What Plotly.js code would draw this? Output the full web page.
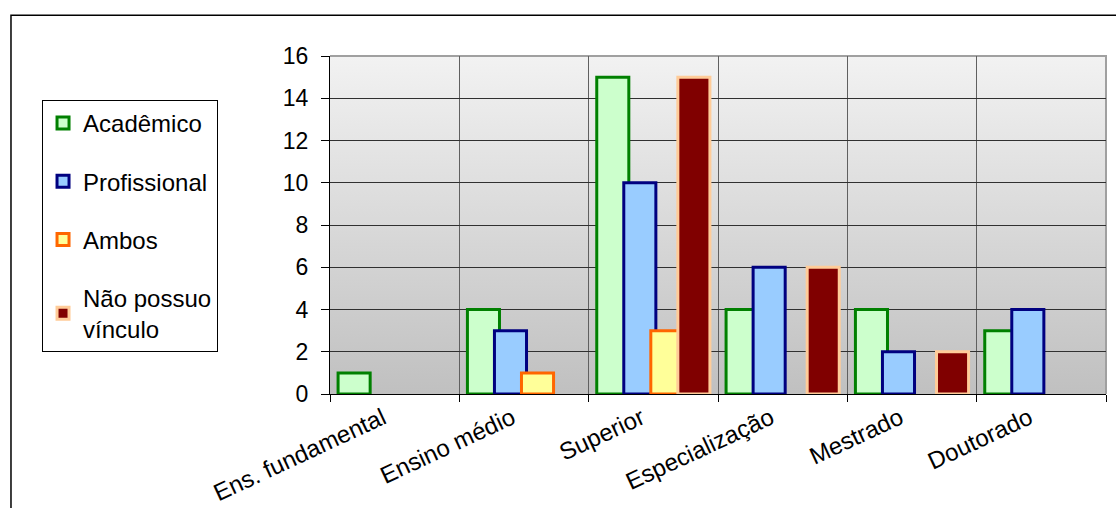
<!DOCTYPE html>
<html>
<head>
<meta charset="utf-8">
<script src="https://cdn.plot.ly/plotly-3.0.1.min.js"></script>
<style>
html,body{margin:0;padding:0;background:#fff;}
#chart{width:1116px;height:508px;}
</style>
</head>
<body>
<div id="chart"></div>
<script>
var categories = ['Ens. fundamental', 'Ensino médio', 'Superior', 'Especialização', 'Mestrado', 'Doutorado'];
var academico = [1, 4, 15, 4, 4, 3];
var profissional = [null, 3, 10, 6, 2, 4];
var ambos = [null, 1, 3, null, null, null];
var naoPossuo = [null, null, 15, 6, 2, null];
var seriesNames = ['Acadêmico', 'Profissional', 'Ambos', 'Não possuo<br>vínculo'];
var yTicks = [0, 2, 4, 6, 8, 10, 12, 14, 16];

var fills = ['#CCFFCC', '#99CCFF', '#FFFF99', '#800000'];
var lines = ['#008000', '#000080', '#FF6600', '#FFCC99'];
var values = [academico, profissional, ambos, naoPossuo];

var barW = 0.248, step = 0.209;
var traces = values.map(function (v, i) {
  var center = (i - 1.5) * step;
  return {
    type: 'bar',
    name: seriesNames[i],
    x: categories,
    y: v,
    width: barW,
    offset: center - barW / 2,
    legendgroup: 'g' + i,
    marker: {color: fills[i], line: {color: lines[i], width: 3}},
    hoverinfo: 'x+y'
  };
});

var font = 'Liberation Sans, Arial, sans-serif';
var grad = 'data:image/svg+xml;charset=utf-8,' + encodeURIComponent(
  '<svg xmlns="http://www.w3.org/2000/svg" width="100" height="100" preserveAspectRatio="none">' +
  '<defs><linearGradient id="g" x1="0" y1="0" x2="0" y2="1">' +
  '<stop offset="0" stop-color="#f2f2f2"/><stop offset="1" stop-color="#c0c0c0"/>' +
  '</linearGradient></defs><rect width="100" height="100" fill="url(#g)"/></svg>');

var layout = {
  width: 1116, height: 508,
  margin: {l: 330, r: 10, t: 56, b: 114, autoexpand: false},
  paper_bgcolor: '#ffffff',
  plot_bgcolor: 'rgba(0,0,0,0)',
  barmode: 'overlay',
  font: {family: font, size: 24, color: '#000'},
  showlegend: true,
  legend: {
    x: -0.3711, y: 0.87, xanchor: 'left', yanchor: 'top',
    bordercolor: '#000', borderwidth: 1, bgcolor: '#fff',
    font: {family: font, size: 24, color: '#000'},
    tracegroupgap: 24, traceorder: 'grouped'
  },
  xaxis: {
    type: 'category',
    range: [-0.5, 5.5],
    tickson: 'boundaries',
    ticks: 'outside', ticklen: 7, tickcolor: '#000', tickwidth: 1,
    ticklabelshift: -12,
    showgrid: true, gridcolor: '#606060', gridwidth: 1,
    showline: true, linecolor: '#000', linewidth: 1,
    tickangle: -25,
    tickfont: {family: font, size: 24, color: '#000'},
    fixedrange: true
  },
  yaxis: {
    range: [0, 16],
    tickvals: yTicks,
    ticks: 'outside', ticklen: 8, tickcolor: '#000', tickwidth: 1,
    ticklabelstandoff: 8,
    showgrid: true, gridcolor: '#303030', gridwidth: 1,
    zeroline: false,
    showline: true, linecolor: '#000', linewidth: 1,
    tickfont: {family: font, size: 23, color: '#000'},
    fixedrange: true
  },
  images: [{
    source: grad, xref: 'paper', yref: 'paper',
    x: 0, y: 1, sizex: 1, sizey: 1, xanchor: 'left', yanchor: 'top',
    sizing: 'stretch', layer: 'below'
  }],
  shapes: [
    {type: 'path', xref: 'paper', yref: 'paper', path: 'M 0 1 L 1 1 L 1 0',
     line: {color: '#a0a0a0', width: 2}, layer: 'below'},
    {type: 'rect', xref: 'paper', yref: 'paper', x0: -0.4111, x1: 1.03, y0: -0.4, y1: 1.1209,
     line: {color: '#000', width: 1.5}, layer: 'above'}
  ]
};

Plotly.newPlot('chart', traces, layout, {displayModeBar: false, staticPlot: true});
</script>
</body>
</html>
